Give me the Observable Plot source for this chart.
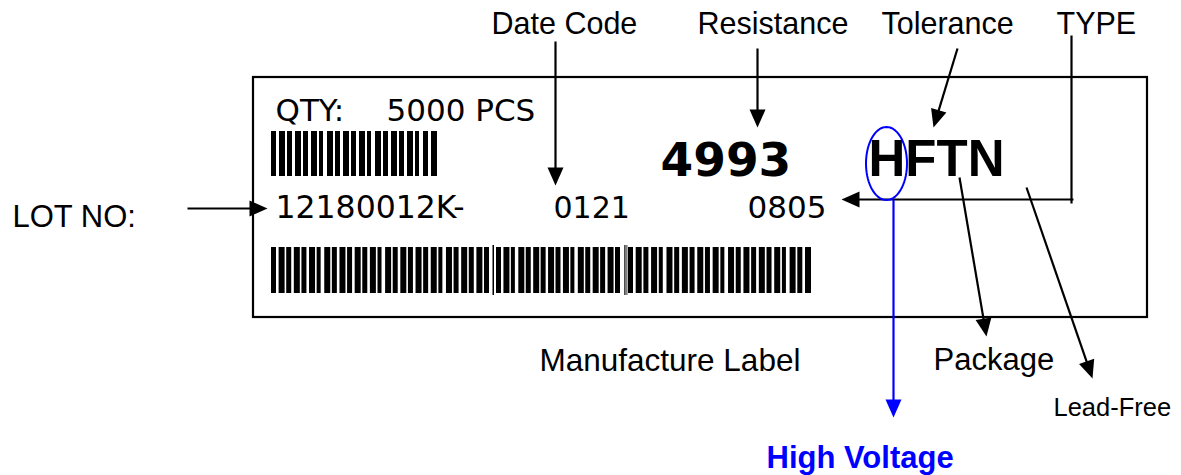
<!DOCTYPE html>
<html><head><meta charset="utf-8">
<script src="https://cdn.jsdelivr.net/npm/d3@7"></script>
<script src="https://cdn.jsdelivr.net/npm/@observablehq/plot@0.6"></script>
<style>html,body{margin:0;padding:0;background:#fff}svg{display:block}</style>
</head><body><div id="chart"></div>
<script>
// ---- content ----
const calloutLabels = ["Date Code", "Resistance", "Tolerance", "TYPE"];
const sideLabels = ["LOT NO:", "Manufacture Label", "Package", "Lead-Free", "High Voltage"];
const labelFields = ["QTY:", "5000 PCS", "12180012K-", "0121", "0805"];
const resistanceCode = "4993";
const typeCode = "HFTN";
// barcode bar widths (one digit per bar)
const smallBarcode = "565656465656465656456";
const longBarcodeA = "56565646565656465656564656565";
const longBarcodeB = "56465656564656565";
const longBarcodeC = "565646565656465656564656";

// ---- layout ----
const W = 1181, H = 475;
const ARIAL = "Liberation Sans, Arial, sans-serif";
const VERD = "DejaVu Sans, Verdana, sans-serif";
const BLUE = "#0000ff";

const texts = [
  {t: calloutLabels[0], x: 491, y: 33, f: ARIAL, s: 30.5, w: "normal", c: "#000"},
  {t: calloutLabels[1], x: 697, y: 33, f: ARIAL, s: 30.5, w: "normal", c: "#000"},
  {t: calloutLabels[2], x: 881, y: 33, f: ARIAL, s: 30.5, w: "normal", c: "#000"},
  {t: calloutLabels[3], x: 1056, y: 33, f: ARIAL, s: 30.5, w: "normal", c: "#000"},
  {t: sideLabels[0], x: 12, y: 226, f: ARIAL, s: 31, w: "normal", c: "#000"},
  {t: sideLabels[1], x: 539, y: 370, f: ARIAL, s: 31.5, w: "normal", c: "#000"},
  {t: sideLabels[2], x: 933, y: 369, f: ARIAL, s: 31, w: "normal", c: "#000"},
  {t: sideLabels[3], x: 1053, y: 415, f: ARIAL, s: 25.5, w: "normal", c: "#000"},
  {t: sideLabels[4], x: 766, y: 467, f: ARIAL, s: 31, w: "bold", c: BLUE},
  {t: labelFields[0], x: 275, y: 120, f: VERD, s: 31, w: "normal", c: "#000"},
  {t: labelFields[1], x: 386, y: 120, f: VERD, s: 31, w: "normal", c: "#000"},
  {t: labelFields[2], x: 275, y: 217, f: VERD, s: 31.5, w: "normal", c: "#000"},
  {t: labelFields[3], x: 553, y: 217, f: VERD, s: 30, w: "normal", c: "#000"},
  {t: labelFields[4], x: 747, y: 217, f: VERD, s: 31, w: "normal", c: "#000"},
  {t: resistanceCode, x: 660, y: 175, f: VERD, s: 47, w: "bold", c: "#000"},
  {t: typeCode, x: 868, y: 175, f: ARIAL, s: 51, w: "bold", c: "#000"}
];

// arrows: from (x1,y1) to tip (x2,y2)
const arrows = [
  {x1: 555, y1: 41, x2: 555, y2: 185, c: "#000"},
  {x1: 757, y1: 48, x2: 757, y2: 127, c: "#000"},
  {x1: 957, y1: 48, x2: 933, y2: 127, c: "#000"},
  {x1: 1073, y1: 199, x2: 841, y2: 199, c: "#000"},
  {x1: 187, y1: 208, x2: 267, y2: 208, c: "#000"},
  {x1: 959, y1: 177, x2: 986, y2: 336, c: "#000"},
  {x1: 1026, y1: 187, x2: 1092, y2: 378, c: "#000"},
  {x1: 893, y1: 199, x2: 893, y2: 417, c: BLUE}
];
const plainLines = [{x1: 1071, y1: 35, x2: 1071, y2: 203}];
arrows.forEach(a => {
  const dx = a.x2 - a.x1, dy = a.y2 - a.y1, L = Math.hypot(dx, dy);
  a.angle = Math.atan2(dy, dx) * 180 / Math.PI;
  a.ex = a.x2 - dx / L * 10; a.ey = a.y2 - dy / L * 10;
});

function bars(code, x0, x1, y1, y2) {
  const n = code.length, last = +code[n - 1];
  const pitch = (x1 - x0 - last) / (n - 1);
  return [...code].map((c, i) => ({x1: x0 + i * pitch, x2: x0 + i * pitch + (+c), y1, y2}));
}
const barRects = [
  ...bars(smallBarcode, 271, 437, 131, 176),
  ...bars(longBarcodeA, 271, 489, 247, 293),
  ...bars(longBarcodeB, 496, 620, 247, 293),
  ...bars(longBarcodeC, 628, 811, 247, 293),
  {x1: 492.5, x2: 494, y1: 245, y2: 295},
  {x1: 624.3, x2: 625.5, y1: 245, y2: 295},
  {x1: 626.5, x2: 627.3, y1: 245, y2: 295}
];

const ellipse = d3.range(0, 73).map(i => {
  const a = i / 72 * 2 * Math.PI;
  return {x: 886 + 20.5 * Math.cos(a), y: 163 + 36.5 * Math.sin(a)};
});

const head = {draw(ctx) { ctx.moveTo(0, 0); ctx.lineTo(-18, -8); ctx.lineTo(-18, 8); ctx.closePath(); }};

const chart = Plot.plot({
  width: W, height: H,
  margin: 0,
  x: {domain: [0, W], range: [0, W], axis: null},
  y: {domain: [0, H], range: [0, H], axis: null},
  style: {background: "#fff", overflow: "visible"},
  marks: [
    Plot.rect([{x1: 253, x2: 1147, y1: 77, y2: 317}], {x1: "x1", x2: "x2", y1: "y1", y2: "y2", fill: "none", stroke: "#000", strokeWidth: 2.2}),
    Plot.rect(barRects, {x1: "x1", x2: "x2", y1: "y1", y2: "y2", fill: "#000"}),
    Plot.link(plainLines, {x1: "x1", y1: "y1", x2: "x2", y2: "y2", stroke: "#000", strokeWidth: 2.2}),
    Plot.link(arrows, {x1: "x1", y1: "y1", x2: "ex", y2: "ey", stroke: d => d.c, strokeWidth: 2.2}),
    Plot.dot(arrows, {x: "x2", y: "y2", rotate: "angle", symbol: head, fill: d => d.c, stroke: "none", r: 5}),
    Plot.line(ellipse, {x: "x", y: "y", stroke: BLUE, strokeWidth: 2, fill: "none"}),
    ...texts.map(d => Plot.text([d], {x: "x", y: "y", text: "t", textAnchor: "start", lineAnchor: "bottom",
      fontFamily: d.f, fontSize: d.s, fontWeight: d.w, fill: d.c}))
  ]
});
document.getElementById("chart").appendChild(chart);
</script>
</body></html>
